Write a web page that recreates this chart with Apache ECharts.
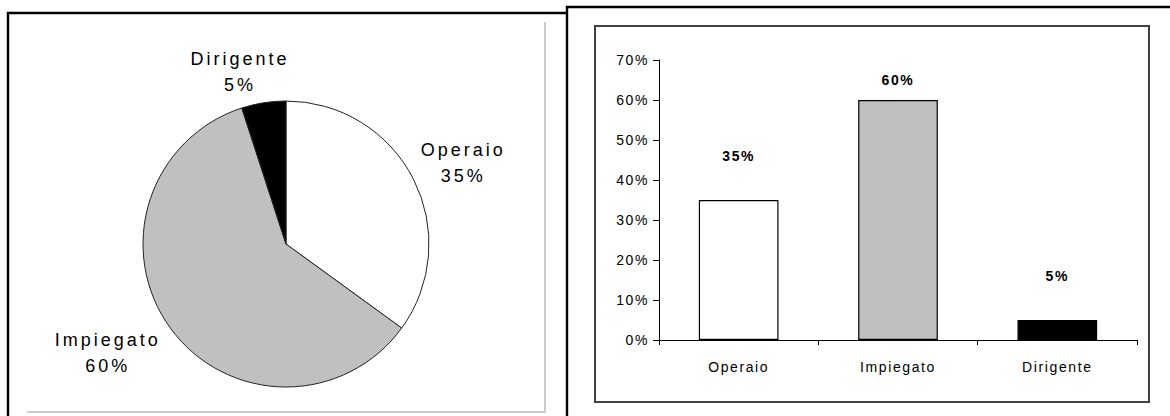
<!DOCTYPE html>
<html>
<head>
<meta charset="utf-8">
<script src="https://cdn.jsdelivr.net/npm/echarts@6/dist/echarts.min.js"></script>
<style>
  html, body { margin: 0; padding: 0; background: #ffffff; }
  #chart { width: 1170px; height: 416px; }
  /* wide, spaced lettering of the old office-suite fonts */
  #chart text { letter-spacing: 1.6px; }
  #chart text[style*="18px"] { letter-spacing: 3px; }
</style>
</head>
<body>
<div id="chart"></div>
<script>
// Job categories and their share of the staff (percent)
const categories = ['Operaio', 'Impiegato', 'Dirigente'];
const shares = [35, 60, 5];
const fillColors = ['#ffffff', '#c0c0c0', '#000000'];
// Value axis of the column chart (percent)
const percentTicks = [0, 10, 20, 30, 40, 50, 60, 70];

const FONT = '"Liberation Sans", Arial, sans-serif';

// Pie geometry
const pieCenter = [286, 244];
const pieRadius = 143;
// radial distance of each pie label and a small turn away from the slice middle (degrees)
const pieLabelDist = [195, 209, 178];
const pieLabelTurn = [2.4, 4.5, -6];
// gap between column top and its value label
const columnLabelGap = [37, 13, 37];

const total = shares.reduce((a, b) => a + b, 0);
function sliceMidAngle(i) {
  let before = 0;
  for (let k = 0; k < i; k++) before += shares[k];
  return (before + shares[i] / 2) / total * 360; // clockwise from 12 o'clock
}

const chart = echarts.init(document.getElementById('chart'), null, { renderer: 'svg' });

chart.setOption({
  animation: false,
  backgroundColor: '#ffffff',
  textStyle: { fontFamily: FONT },
  graphic: [
    // left panel frame
    { type: 'polyline', z: 0, shape: { points: [[8, 416], [8, 13], [567, 13]] },
      style: { stroke: '#000', lineWidth: 2.4, fill: null } },
    { type: 'polyline', z: 0, shape: { points: [[545, 22], [545, 412], [27, 412]] },
      style: { stroke: '#cccccc', lineWidth: 2, fill: null } },
    // right panel frame
    { type: 'polyline', z: 0, shape: { points: [[567, 416], [567, 7], [1170, 7]] },
      style: { stroke: '#000', lineWidth: 2.4, fill: null } },
    { type: 'rect', z: 0, shape: { x: 595, y: 26, width: 554, height: 376 },
      style: { stroke: '#404040', lineWidth: 2, fill: null } }
  ],
  grid: {
    left: 659, top: 60, width: 478, height: 280,
    containLabel: false, outerBoundsMode: 'none'
  },
  xAxis: {
    type: 'category',
    data: categories,
    boundaryGap: true,
    axisLine: { lineStyle: { color: '#000', width: 1 } },
    axisTick: { show: true, length: 5, lineStyle: { color: '#000' } },
    axisLabel: { color: '#000', fontSize: 14, fontFamily: FONT, margin: 20 },
    splitLine: { show: false }
  },
  yAxis: {
    type: 'value',
    min: percentTicks[0],
    max: percentTicks[percentTicks.length - 1],
    interval: percentTicks[1] - percentTicks[0],
    axisLine: { show: true, lineStyle: { color: '#000', width: 1 } },
    axisTick: { show: true, length: 6, lineStyle: { color: '#000' } },
    axisLabel: { color: '#000', fontSize: 14, fontFamily: FONT, margin: 10, formatter: '{value}%' },
    splitLine: { show: false }
  },
  series: [
    {
      type: 'pie',
      center: pieCenter,
      radius: pieRadius,
      startAngle: 90,
      clockwise: true,
      silent: true,
      data: categories.map((name, i) => ({
        name, value: shares[i],
        itemStyle: { color: fillColors[i] }
      })),
      itemStyle: { borderColor: '#222', borderWidth: 1 },
      label: {
        show: true,
        formatter: '{b}\n{d}%',
        fontSize: 18,
        lineHeight: 26,
        color: '#000',
        fontFamily: FONT,
        align: 'center'
      },
      labelLine: { show: false },
      labelLayout: function (p) {
        const i = p.dataIndex;
        const a = (sliceMidAngle(i) + pieLabelTurn[i]) * Math.PI / 180;
        return {
          x: pieCenter[0] + pieLabelDist[i] * Math.sin(a),
          y: pieCenter[1] - pieLabelDist[i] * Math.cos(a),
          align: 'center',
          verticalAlign: 'middle'
        };
      }
    },
    {
      type: 'bar',
      barWidth: '50%',
      silent: true,
      data: shares.map((v, i) => ({
        value: v,
        itemStyle: { color: fillColors[i] },
        label: { distance: columnLabelGap[i] }
      })),
      itemStyle: { borderColor: '#000', borderWidth: 1.2 },
      label: {
        show: true,
        position: 'top',
        formatter: '{c}%',
        fontSize: 14,
        fontWeight: 'bold',
        color: '#000',
        fontFamily: FONT
      }
    }
  ]
});
</script>
</body>
</html>
